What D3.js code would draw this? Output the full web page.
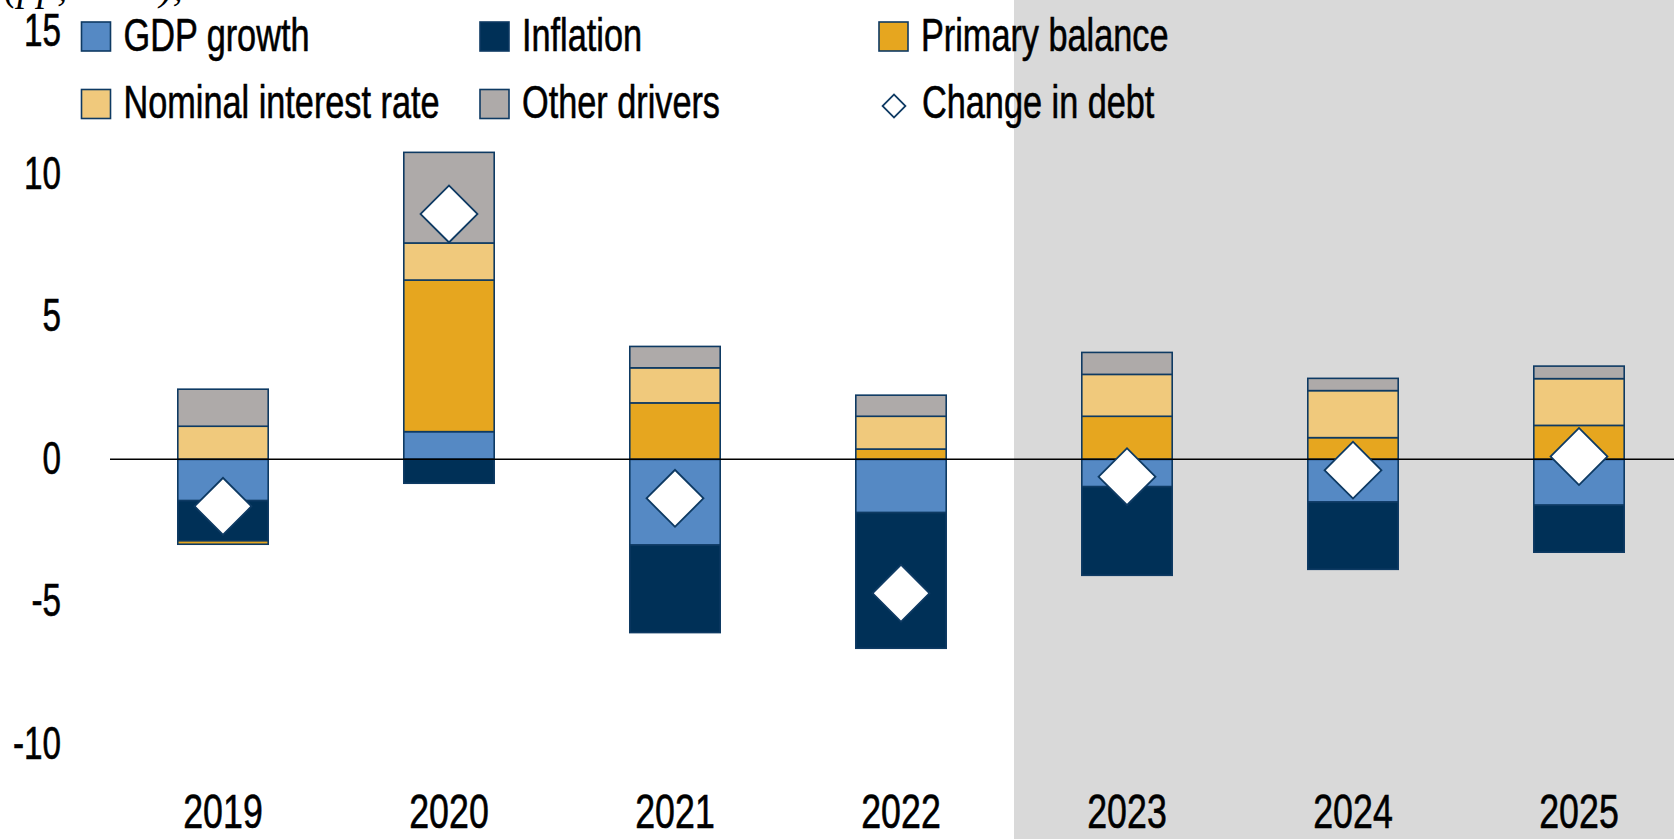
<!DOCTYPE html>
<html>
<head>
<meta charset="utf-8">
<script src="https://cdn.jsdelivr.net/npm/d3@7"></script>
<style>
  html, body { margin: 0; padding: 0; background: #fff; }
  svg { display: block; }
  .lbl { font-family: "Liberation Sans Narrow", "Liberation Sans", sans-serif; fill: #000; stroke: #000; stroke-width: 0.6; }
</style>
</head>
<body>
<div id="chart"></div>
<script>
/* ── debt drivers: stacked contributions + change in debt ───── */

const years     = ['2019', '2020', '2021', '2022', '2023', '2024', '2025'];
const gdpGrowth = [-1.45,  0.97, -3.01, -1.87, -0.96, -1.50, -1.61];
const inflation = [-1.41, -0.84, -3.07, -4.76, -3.11, -2.36, -1.65];
const primary   = [-0.12,  5.32,  1.98,  0.36,  1.51,  0.76,  1.19];
const nominal   = [ 1.16,  1.30,  1.23,  1.15,  1.47,  1.65,  1.64];
const other     = [ 1.30,  3.18,  0.75,  0.74,  0.77,  0.43,  0.44];
const debtChange = [-1.65, 8.61, -1.37, -4.70, -0.61, -0.38, 0.10];
const projFrom  = '2023';
const yTicks    = [-10, -5, 0, 5, 10, 15];

const seriesKeys   = ['gdp', 'infl', 'prim', 'nom', 'oth'];
const seriesNames  = ['GDP growth', 'Inflation', 'Primary balance', 'Nominal interest rate', 'Other drivers'];
const seriesColors = ['#5589c4', '#003057', '#e6a61f', '#f0c97c', '#aeaaa9'];

const W = 1674, H = 839;
const stroke = '#0e3a63';
const squeeze = 0.745;   // condensed look for the label font

const rows = years.map((yr, i) => ({
  year: yr, gdp: gdpGrowth[i], infl: inflation[i], prim: primary[i],
  nom: nominal[i], oth: other[i], debt: debtChange[i]
}));

const svg = d3.select('#chart').append('svg')
  .attr('width', W).attr('height', H);

const x = d3.scaleBand().domain(years).range([110, 1692])
  .paddingInner(0.6).paddingOuter(0.3);
const y = d3.scaleLinear().domain([-10, 15]).range([744.3, 31.8]);
const step = x.step();

// Projection shading
svg.append('rect')
  .attr('x', x(projFrom) - step * 0.3)
  .attr('y', 0)
  .attr('width', W - (x(projFrom) - step * 0.3))
  .attr('height', H)
  .attr('fill', '#d9d9d9');

// Clipped subtitle at very top
svg.append('text')
  .attr('x', 4).attr('y', 0)
  .attr('font-family', '"Liberation Serif", serif')
  .attr('font-style', 'italic')
  .attr('font-size', 40)
  .text('(pp, GDP), annual');

// Y tick labels
svg.append('g').selectAll('g')
  .data(yTicks)
  .join('g')
  .attr('transform', d => `translate(61,${y(d) + 14.5}) scale(${squeeze * 0.95},1)`)
  .append('text')
  .attr('class', 'lbl')
  .attr('text-anchor', 'end')
  .attr('font-size', 47)
  .text(d => d);

// Year labels
svg.append('g').selectAll('g')
  .data(years)
  .join('g')
  .attr('transform', d => `translate(${x(d) + x.bandwidth() / 2},827.5) scale(${squeeze},1)`)
  .append('text')
  .attr('class', 'lbl')
  .attr('text-anchor', 'middle')
  .attr('font-size', 48)
  .text(d => d);

// Stacked bars
const stack = d3.stack().keys(seriesKeys).offset(d3.stackOffsetDiverging);
const layers = stack(rows);

svg.append('g').selectAll('g')
  .data(layers)
  .join('g')
  .attr('fill', (d, i) => seriesColors[i])
  .selectAll('rect')
  .data(d => d)
  .join('rect')
  .attr('x', d => x(d.data.year))
  .attr('width', x.bandwidth())
  .attr('y', d => y(Math.max(d[0], d[1])))
  .attr('height', d => Math.abs(y(d[0]) - y(d[1])))
  .attr('stroke', stroke)
  .attr('stroke-width', 1.6);

// Zero line
svg.append('line')
  .attr('x1', 110).attr('x2', W)
  .attr('y1', y(0)).attr('y2', y(0))
  .attr('stroke', '#000')
  .attr('stroke-width', 1.6);

// Change in debt markers
const diamond = d3.symbol(d3.symbolSquare, 1620);
svg.append('g').selectAll('path')
  .data(rows)
  .join('path')
  .attr('d', diamond)
  .attr('transform', d => `translate(${x(d.year) + x.bandwidth() / 2},${y(d.debt)}) rotate(45)`)
  .attr('fill', '#fff')
  .attr('stroke', stroke)
  .attr('stroke-width', 1.8);

// Legend
const legendPos = [[81.5, 36.5], [480, 36.5], [879, 36.5], [81.5, 104], [480, 104]];
const legend = svg.append('g');
seriesNames.forEach((name, i) => {
  const [lx, ly] = legendPos[i];
  legend.append('rect')
    .attr('x', lx).attr('y', ly - 14.5)
    .attr('width', 29).attr('height', 29)
    .attr('fill', seriesColors[i])
    .attr('stroke', stroke)
    .attr('stroke-width', 1.6);
  legend.append('g')
    .attr('transform', `translate(${lx + 42},${ly + 14}) scale(${squeeze},1)`)
    .append('text')
    .attr('class', 'lbl')
    .attr('font-size', 46)
    .text(name);
});
legend.append('path')
  .attr('d', d3.symbol(d3.symbolSquare, 260))
  .attr('transform', 'translate(894,106) rotate(45)')
  .attr('fill', '#fff')
  .attr('stroke', stroke)
  .attr('stroke-width', 1.8);
legend.append('g')
  .attr('transform', `translate(922,118) scale(${squeeze},1)`)
  .append('text')
  .attr('class', 'lbl')
  .attr('font-size', 46)
  .text('Change in debt');
</script>
</body>
</html>
